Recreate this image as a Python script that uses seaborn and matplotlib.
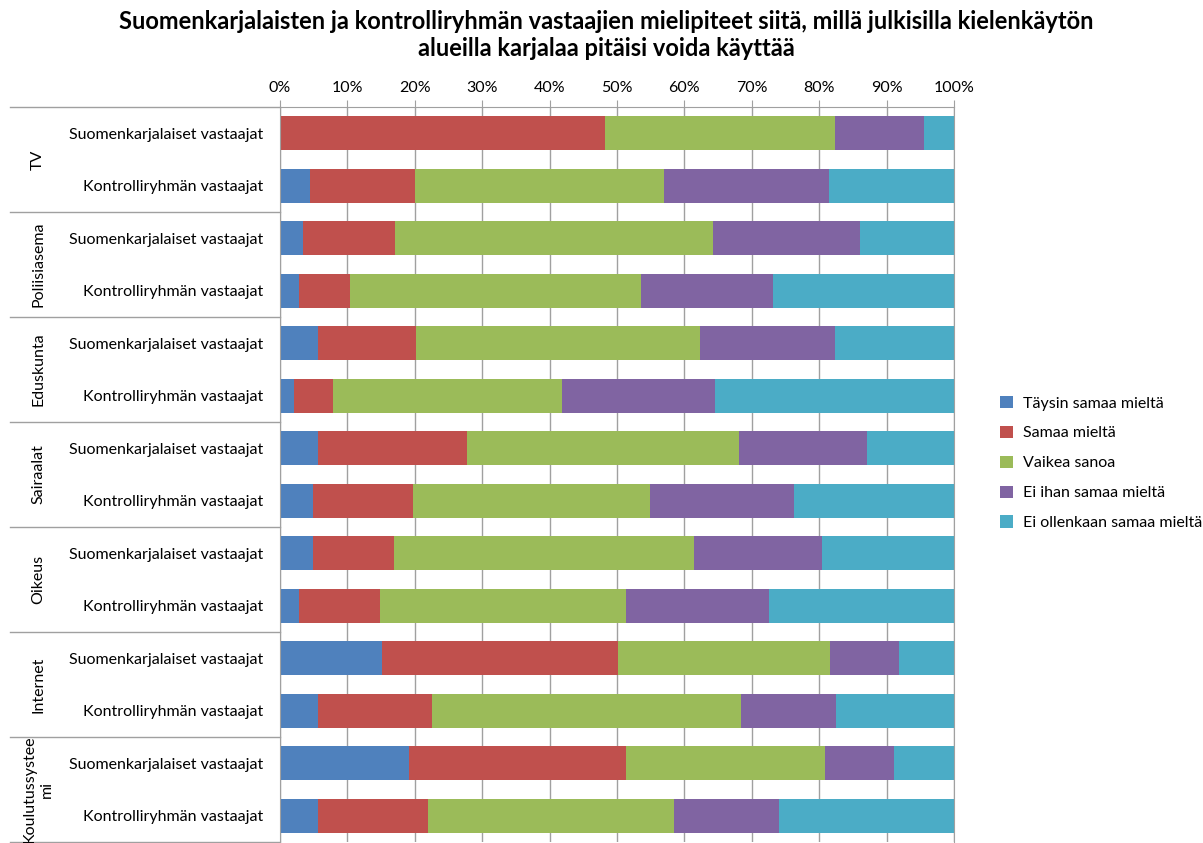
import pandas as pd
import numpy as np
import seaborn as sns
import matplotlib.pyplot as plt
import matplotlib.transforms as mtransforms
from matplotlib.patches import Patch
from matplotlib.lines import Line2D

# Areas (groups) and respondent groups
areas = ['TV', 'Poliisiasema', 'Eduskunta', 'Sairaalat', 'Oikeus', 'Internet', 'Koulutussysteemi']
area_labels = ['TV', 'Poliisiasema', 'Eduskunta', 'Sairaalat', 'Oikeus', 'Internet', 'Koulutussystee\nmi']
respondents = ['Suomenkarjalaiset vastaajat', 'Kontrolliryhmän vastaajat']

# Answer categories
answers = ['Täysin samaa mieltä', 'Samaa mieltä', 'Vaikea sanoa',
           'Ei ihan samaa mieltä', 'Ei ollenkaan samaa mieltä']
colors = ['#4F81BD', '#C0504D', '#9BBB59', '#8064A2', '#4BACC6']

# Shares (%) per bar, top to bottom
taysin = [0.0, 4.4, 3.4, 2.8, 5.6, 2.1, 5.6, 4.9, 4.9, 2.8, 15.1, 5.6, 19.2, 5.6]
samaa = [48.2, 15.7, 13.6, 7.6, 14.6, 5.7, 22.2, 14.9, 12.0, 12.0, 35.1, 16.9, 32.2, 16.3]
vaikea = [34.2, 36.8, 47.2, 43.1, 42.1, 34.0, 40.3, 35.1, 44.5, 36.6, 31.4, 45.9, 29.5, 36.6]
ei_ihan = [13.2, 24.5, 21.8, 19.7, 20.1, 22.8, 19.0, 21.3, 19.0, 21.2, 10.2, 14.1, 10.2, 15.5]
ei_ollenkaan = [4.4, 18.6, 14.0, 26.8, 17.6, 35.4, 12.9, 23.8, 19.6, 27.4, 8.2, 17.5, 8.9, 26.0]

keys = [f'{a}|{r}' for a in areas for r in respondents]
df = pd.DataFrame({'key': keys, 'Täysin samaa mieltä': taysin, 'Samaa mieltä': samaa,
                   'Vaikea sanoa': vaikea, 'Ei ihan samaa mieltä': ei_ihan,
                   'Ei ollenkaan samaa mieltä': ei_ollenkaan})
vals = df[answers].values
vals = vals / vals.sum(axis=1, keepdims=True) * 100
cum = np.cumsum(vals, axis=1)

plt.rcParams['font.family'] = ['Lato', 'DejaVu Sans']
fig = plt.figure(figsize=(12.03, 8.43), dpi=100)
ax = fig.add_axes([280 / 1203, 1 - 842 / 843, 674 / 1203, 735 / 843])

# Stacked bars: draw cumulative totals from the last category back to the first
for i in range(len(answers) - 1, -1, -1):
    sns.barplot(x=cum[:, i], y=df['key'], order=keys, orient='h', color=colors[i],
                width=0.65, saturation=1, ax=ax, zorder=2)

ax.set_xlim(0, 100)
ax.set_ylim(13.5, -0.5)
ax.set_xticks(np.arange(0, 101, 10))
ax.set_xticklabels([f'{v}%' for v in range(0, 101, 10)], fontsize=11.5)
ax.xaxis.tick_top()
ax.tick_params(axis='x', direction='out', length=5, color='#a0a0a0', pad=4)
ax.set_yticks(range(len(keys)))
ax.set_yticklabels([r for a in areas for r in respondents], fontsize=11.5)
ax.tick_params(axis='y', length=0, pad=12)
ax.set_xlabel('')
ax.set_ylabel('')
ax.grid(axis='x', color='#a0a0a0', linewidth=1, zorder=0)
ax.set_axisbelow(True)
for s in ['left', 'top', 'right']:
    ax.spines[s].set_color('#a0a0a0')
ax.spines['bottom'].set_visible(False)

# Group separators and group labels on the left
trans = mtransforms.blended_transform_factory(fig.transFigure, ax.transData)
for b in np.arange(-0.5, 14, 2):
    ax.add_line(Line2D([10 / 1203, 280 / 1203], [b, b], transform=trans,
                       color='#a0a0a0', linewidth=1, clip_on=False))
for k, lab in enumerate(area_labels):
    fig.text(38 / 1203, 2 * k + 0.5, lab, transform=trans, rotation=90,
             ha='center', va='center', fontsize=11.5, linespacing=1.3)

fig.text(606 / 1203, 1 - 35 / 843,
         'Suomenkarjalaisten ja kontrolliryhmän vastaajien mielipiteet siitä, millä julkisilla kielenkäytön\n'
         'alueilla karjalaa pitäisi voida käyttää',
         ha='center', va='center', fontsize=17, fontweight='bold', linespacing=1.2)

handles = [Patch(facecolor=c, edgecolor='none', label=a) for c, a in zip(colors, answers)]
fig.legend(handles=handles, loc='center left', bbox_to_anchor=(986 / 1203, 1 - 463 / 843),
           frameon=False, fontsize=11.5, handlelength=0.8, handleheight=0.8,
           handletextpad=0.6, labelspacing=0.95)

plt.savefig('out.png', dpi=100)
